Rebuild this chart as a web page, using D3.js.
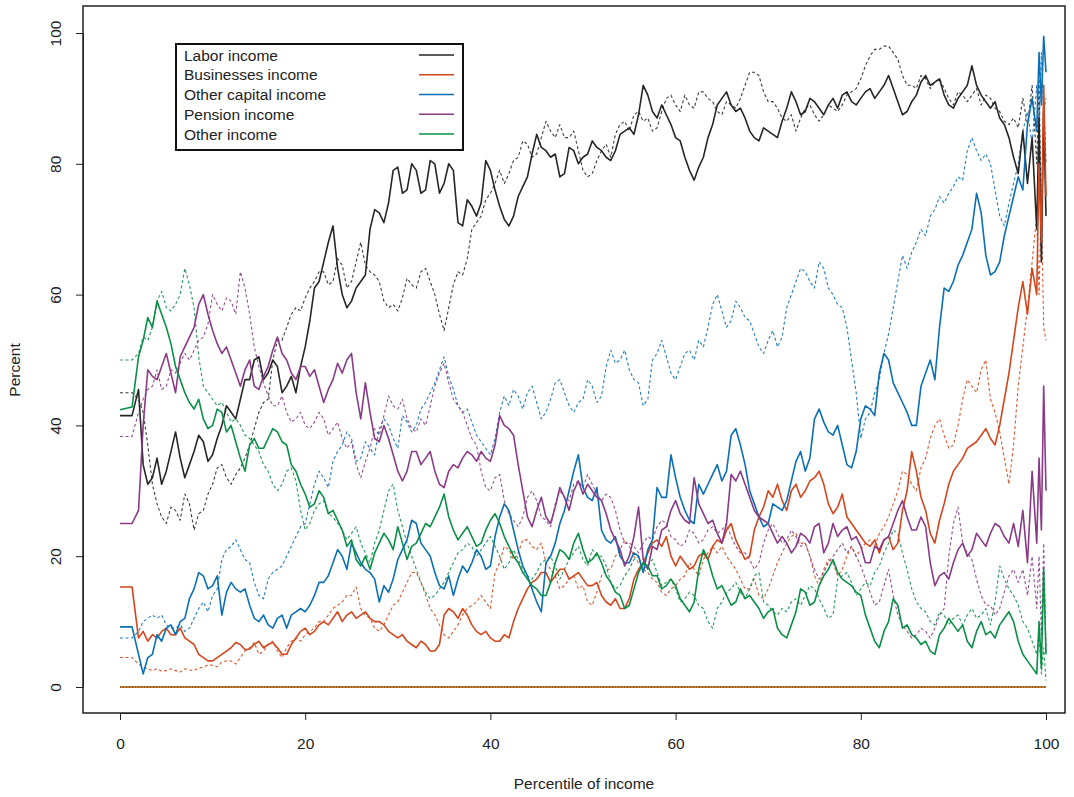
<!DOCTYPE html>
<html>
<head>
<meta charset="utf-8">
<script src="https://cdn.jsdelivr.net/npm/d3@7"></script>
<style>
  html, body { margin: 0; padding: 0; background: #ffffff; }
  svg { display: block; font-family: "Liberation Sans", Arial, Helvetica, sans-serif; }
</style>
</head>
<body>
<svg id="chart" width="1074" height="797"></svg>
<script>
// Income-source shares along the income distribution.
// Solid lines: first group, dotted lines: second group.
// Each series is sampled on a main grid plus a set of in-between points.

const percentiles = [0, 1.3, 2, 2.5, 3, 3.5,
  4, 5, 6, 7, 8, 9, 10, 11, 12, 13,
  14, 15, 16, 17, 18, 19, 20, 21, 22, 23,
  24, 25, 26, 27, 28, 29, 30, 31, 32, 33,
  34, 35, 36, 37, 38, 39, 40, 41, 42, 43,
  44, 45, 46, 47, 48, 49, 50, 51, 52, 53,
  54, 55, 56, 57, 58, 59, 60, 61, 62, 63,
  64, 65, 66, 67, 68, 69, 70, 71, 72, 73,
  74, 75, 76, 77, 78, 79, 80, 81, 82, 83,
  84, 85, 86, 87, 88, 89, 90, 91, 92, 93,
  94, 95, 96, 97,
  97.5, 98, 98.5, 99, 99.25, 99.5, 99.75, 100];

const halfPercentiles = [
  4.5, 5.5, 6.5, 7.5, 8.5, 9.5, 10.5, 11.5, 12.5, 13.5,
  14.5, 15.5, 16.5, 17.5, 18.5, 19.5, 20.5, 21.5, 22.5, 23.5,
  24.5, 25.5, 26.5, 27.5, 28.5, 29.5, 30.5, 31.5, 32.5, 33.5,
  34.5, 35.5, 36.5, 37.5, 38.5, 39.5, 40.5, 41.5, 42.5, 43.5,
  44.5, 45.5, 46.5, 47.5, 48.5, 49.5, 50.5, 51.5, 52.5, 53.5,
  54.5, 55.5, 56.5, 57.5, 58.5, 59.5, 60.5, 61.5, 62.5, 63.5,
  64.5, 65.5, 66.5, 67.5, 68.5, 69.5, 70.5, 71.5, 72.5, 73.5,
  74.5, 75.5, 76.5, 77.5, 78.5, 79.5, 80.5, 81.5, 82.5, 83.5,
  84.5, 85.5, 86.5, 87.5, 88.5, 89.5, 90.5, 91.5, 92.5, 93.5,
  94.5, 95.5, 96.5];

// ---- Labor income ----
const laborSolid = [41.5, 41.5, 45.5, 34, 31, 32,
  35, 33, 39, 32, 36, 37.5, 35.5, 40, 42, 44,
  47, 50.5, 48, 49, 46, 45, 52, 61, 65, 70.5,
  60, 59, 62, 70, 72.5, 74, 79.5, 76, 79, 76,
  80, 77, 79, 70.5, 73.5, 74, 79, 73.5, 70.5, 75,
  78, 84.5, 82, 81.5, 78.5, 82, 81, 83.5, 82, 80.5,
  84.5, 85.5, 87.5, 90.5, 87, 87.5, 84, 81, 77.5, 81,
  86, 90, 89, 88.5, 85, 83.5, 85, 84, 88.5, 89.5,
  88, 89.5, 87.5, 90, 90.5, 89.5, 90, 91.5, 91, 93.5,
  89.5, 88, 90.5, 93.5, 92.5, 90.5, 88.5, 91, 95, 90.5,
  88.5, 87, 84, 78.5,
  85, 77, 84, 70, 87, 65, 88, 72];
const laborSolidHalf = [
  31, 36, 35, 34, 38.5, 34.5, 38, 43, 41, 47,
  50, 47, 50, 45, 47.5, 49, 56, 62, 68, 64,
  58, 61, 63, 73, 71, 79, 75.5, 80, 75.5, 80.5,
  75.5, 80, 71, 74.5, 72, 80.5, 76, 71.5, 72, 76.5,
  81.5, 82.5, 81, 78, 82.5, 80, 81.5, 82.5, 81, 82,
  85, 84.5, 92, 88, 89, 86, 83.5, 79, 79.5, 84,
  89, 91, 88, 87, 84, 85.5, 84.5, 86.5, 91, 87.5,
  90, 88.5, 89, 88.5, 91, 89, 91, 90, 92, 91.5,
  87.5, 89.5, 92.5, 92, 93, 89, 90, 92, 92, 89.5,
  89.5, 86, 81];

const laborDotted = [45, 45, 44, 42, 37, 31,
  28, 25, 27, 29.5, 24, 27, 31, 34, 31, 33.5,
  37, 42, 44, 53, 55, 58, 59.5, 62, 63.5, 62,
  64.5, 62, 68, 63.5, 62, 58, 57.5, 62.5, 61, 64,
  60, 54.5, 61.5, 63, 70, 72, 75.5, 79, 78.5, 81,
  83, 81.5, 86.5, 84, 84, 85, 79, 78.5, 82, 81,
  86, 85, 88, 87, 85.5, 90, 89, 90.5, 88.5, 91,
  89.5, 87.5, 89, 90, 94, 93.5, 89.5, 88.5, 86.5, 85,
  88.5, 87.5, 87.5, 88.5, 89, 91, 93, 96.5, 97.5, 98,
  96, 92, 91.5, 93, 92.5, 91.5, 89, 90.5, 90.5, 89,
  90, 88, 86, 85.5,
  90, 86, 92, 80, 93, 70, 90, 80];
const laborDottedHalf = [
  26, 27.5, 25.5, 28, 26.5, 29.5, 33.5, 32, 32.5, 35,
  39.5, 43.5, 50, 53, 57, 57.5, 61, 63.5, 61.5, 65.5,
  61, 65, 64.5, 63, 59, 58.5, 59.5, 61.5, 63.5, 62,
  57, 58, 63.5, 65.5, 71, 74.5, 77, 77, 80.5, 83.5,
  81, 84, 85, 86, 84, 82, 78, 80.5, 83, 84.5,
  86.5, 87.5, 86.5, 85, 88, 90.5, 88, 89, 91, 90,
  88, 89.5, 88.5, 92, 94, 91, 89.5, 87, 87.5, 87,
  89, 86.5, 89, 88, 90.5, 91.5, 95, 97.5, 98, 97,
  93.5, 92, 93.5, 91.5, 93, 90, 91, 89.5, 91.5, 90.5,
  88.5, 86.5, 87];

// ---- Businesses income ----
const businessSolid = [15.3, 15.3, 7.5, 8.5, 7, 8,
  7.5, 9, 8, 7.5, 6.5, 4.5, 4, 5, 6, 6.5,
  5.8, 7, 6.5, 6, 5, 7.5, 9, 8.5, 10, 10.5,
  10, 11.5, 11, 10.5, 10, 8.5, 7.5, 7, 6, 6.5,
  5.5, 11, 11.5, 12, 9.5, 8, 7.5, 7, 7.5, 12,
  15, 16.5, 17.5, 17, 18, 17, 16.5, 15.5, 14, 12.5,
  12, 13.5, 18, 20.5, 22.5, 23, 18.5, 19, 18.5, 20.5,
  21.5, 22, 25, 21, 20, 26, 30, 31, 27, 31,
  30, 32, 31, 26.5, 29.5, 25, 23, 21.5, 20.5, 23,
  22, 30, 33, 27, 22, 28, 33, 35, 37, 38.5,
  38, 40, 48, 58,
  62, 57, 64, 60, 80, 68, 92, 75];
const businessSolidHalf = [
  8.5, 8, 9, 7, 5, 4, 4.5, 5.5, 6.8, 5.7,
  6.5, 6, 6.8, 5, 6.5, 8.5, 8, 9.5, 9.5, 11.5,
  11, 10.5, 11.5, 10, 9.5, 8, 8, 6.5, 7, 5.5,
  6.5, 12, 10.5, 11, 8.5, 8.5, 7, 8, 10, 13.5,
  16, 17.5, 16, 18, 16.5, 17.5, 15.5, 16, 13, 13.5,
  12, 16.5, 19, 22, 21.5, 20, 20, 18, 20, 19.5,
  22.5, 24, 22.5, 19.5, 24, 27.5, 29, 28.5, 30, 29,
  31.5, 33, 28, 27.5, 26, 24, 22, 22.5, 22.5, 21,
  27, 36, 29, 23.5, 25.5, 31, 34, 36.5, 37.5, 39.5,
  37, 44, 53];

const businessDotted = [4.5, 4.5, 3.5, 3, 2.8, 2.5,
  2.8, 2.5, 2.5, 2.8, 2.5, 3, 3.3, 3.8, 4, 4.5,
  6, 5, 6.5, 5.5, 6, 7.5, 8, 9, 10, 12,
  13, 14, 12, 10.5, 8.5, 11, 13, 16, 17.5, 14,
  11, 8, 8.5, 11, 12.5, 14, 12, 19, 21, 20.5,
  22.5, 21, 19, 17, 15.5, 17, 15.5, 12.5, 17, 18,
  21, 21.5, 19, 17.5, 16, 14, 15.5, 17, 18, 19.5,
  21.5, 21.5, 19, 16.5, 15, 14, 15, 19, 22, 23.5,
  22, 17, 18, 19, 18, 21.5, 21, 22.5, 23.5, 26,
  30, 32.5, 30, 35, 40, 38.5, 37, 44, 46, 48.5,
  44, 39, 31, 46,
  52, 58, 65, 72, 60, 75, 55, 53];
const businessDottedHalf = [
  2.4, 2.8, 2.3, 2.6, 2.9, 3.4, 3.1, 4, 3.5, 5.5,
  6.8, 5.5, 7, 4.5, 7, 7, 8.5, 10, 11, 12.5,
  14, 15.3, 11, 9, 9.5, 12.5, 14.5, 17.5, 16, 12,
  9.5, 7.5, 9.5, 12, 13, 13, 17.5, 21.5, 19.5, 22.5,
  21.5, 22, 18, 15, 16.5, 15, 13, 14.5, 18, 20,
  22.5, 20, 18, 16.5, 14.5, 15, 16.5, 19, 17, 20.5,
  20.5, 20, 18, 15, 16.5, 13.5, 17, 20.5, 23, 22,
  20, 15.5, 19.5, 17, 20, 20, 22, 21.5, 24.5, 28,
  33, 31, 33.5, 38, 41, 36.5, 40, 47, 45, 50,
  42, 35, 37];

// ---- Other capital income ----
const capitalSolid = [9.2, 9.2, 5, 2, 4.5, 5,
  8, 9, 8, 10.5, 15, 17, 15.5, 11, 16, 14.5,
  12.5, 10, 9.5, 10.5, 9, 11.5, 11.5, 14, 16, 19,
  20, 22, 19, 17.5, 13, 14.5, 19.5, 22.5, 25, 21,
  17.5, 15, 14, 18.5, 19, 20, 18.5, 26, 27, 21,
  17, 13, 19, 22, 27, 33, 30.5, 28.5, 24, 22,
  20, 19, 20, 21, 30.5, 29, 32, 27, 25, 29.5,
  32.5, 31.5, 38.5, 37, 30, 26, 25, 27.5, 28.5, 34.5,
  33, 41, 40.5, 38.5, 37, 33.5, 41, 42.5, 48, 50,
  45, 42, 40, 48, 47, 61, 62, 66, 70, 72.5,
  63, 65, 72, 78,
  76, 86, 90, 85, 97, 89, 99.5, 94];
const capitalSolidHalf = [
  7, 9.5, 10, 13.5, 17.5, 15, 17, 14.5, 15, 15,
  10.5, 11, 9, 11, 11, 12, 12.5, 16, 17, 21,
  18, 20.5, 18, 16.5, 15.5, 16.5, 21, 25.5, 22, 20,
  15.5, 17, 16.5, 17.5, 21, 18, 23, 28, 24, 18.5,
  15, 11.5, 20, 25, 30, 35.5, 29, 30.5, 22.5, 23,
  19, 20.5, 17.5, 22.5, 29, 35.5, 29, 25.5, 31, 31,
  34, 33, 39.5, 34, 28, 24.5, 28, 27, 31.5, 36,
  35, 42.5, 39, 40, 34, 36, 43, 41.5, 51, 46.5,
  43.5, 40, 46, 50, 55, 60.5, 64.5, 68, 75.5, 66,
  63.5, 69, 75];

const capitalDotted = [7.5, 7.5, 8.5, 10, 10.5, 11,
  10.5, 9.5, 9, 8.5, 10.5, 13, 14, 19.5, 21.5, 21,
  19, 14, 16.5, 18, 20, 23, 25, 31, 32, 34.5,
  37, 38, 35, 36.5, 39.5, 40, 36.5, 40.5, 40, 43.5,
  46.5, 50.5, 45.5, 42, 40.5, 37.5, 35.5, 42, 43, 44.5,
  45, 43.5, 42, 46.5, 45, 42, 44, 46, 44.5, 51.5,
  50, 48.5, 46.5, 44, 51, 50.5, 47, 51, 50, 52,
  58.5, 57.5, 56, 58, 56, 52, 53, 52, 58, 62,
  63.5, 61, 64, 60, 58, 50, 38, 42, 47, 54,
  62, 64, 68, 69, 73, 74, 76.5, 77.5, 84, 80.5,
  80, 72, 74, 80,
  85, 88, 83, 92, 85, 97, 88, 90];
const capitalDottedHalf = [
  11, 9, 9.5, 9, 12, 11.5, 15, 21, 22.5, 19.5,
  16, 13.5, 17.5, 18.5, 21.5, 24.5, 28, 33, 30.5, 36,
  39, 34.5, 37.5, 35.5, 41, 38, 41.5, 39, 42.5, 45,
  48.5, 47.5, 43, 42.5, 38.5, 36.5, 38, 44.5, 45.5, 42.5,
  46, 41, 44, 47, 43, 43.5, 47, 43.5, 49, 49.5,
  51.5, 47, 43, 50, 53, 48, 49, 51.5, 53, 55,
  60, 55, 59, 56.5, 54, 51, 54.5, 53.5, 60, 64,
  62, 65, 61, 58.5, 55, 45, 41, 45, 51, 58,
  66, 66.5, 70, 72, 75, 75.5, 78, 82, 82, 81.5,
  76, 70.5, 77];

// ---- Pension income ----
const pensionSolid = [25, 25, 27, 40, 48.5, 47.5,
  47, 51, 45, 52, 55, 60, 54.5, 51, 50, 46,
  50, 45.5, 49, 53.5, 50, 47, 49, 48.5, 43.5, 47,
  48, 51, 41, 42, 37.5, 38, 33, 33, 36, 35,
  33, 30.5, 34, 35, 35.5, 36, 34.5, 41.5, 39.5, 34,
  26, 27, 26, 27.5, 29, 30, 29.5, 30, 28.5, 24,
  21, 20, 27.5, 18, 21, 24.5, 28.5, 25.5, 32, 26.5,
  25.5, 22, 32.5, 33, 29, 26, 25, 22, 22, 21.5,
  23, 24.5, 20.5, 25, 24, 22.5, 21.5, 19, 21, 23,
  27, 26, 24, 24.5, 15.5, 17.5, 19, 22, 21, 22.5,
  23.5, 24.5, 22, 21.5,
  27, 19, 33, 22, 35, 24, 46, 30];
const pensionSolidHalf = [
  49, 48, 50.5, 53.5, 58.5, 57, 52.5, 52, 48, 48.5,
  46, 47.5, 51.5, 51, 48, 49, 47.5, 46, 45.5, 49.5,
  50, 45, 46.5, 38, 40, 35.5, 31.5, 36, 34, 36,
  31, 33, 33.5, 36, 34.5, 35, 37, 40, 38.5, 30,
  24.5, 29, 25, 30.5, 27, 31.5, 31, 29, 26.5, 22.5,
  18.5, 23, 19.5, 21.5, 24, 27, 26.5, 25, 28, 25,
  23.5, 25, 31.5, 31, 27, 25.5, 23.5, 23, 20.5, 23.5,
  22, 25, 22, 23, 24.5, 23, 19, 21.5, 22.5, 25,
  28.5, 24, 26, 19, 17, 16.5, 21, 20, 23.5, 21.5,
  25, 23, 25];

const pensionDotted = [38.3, 38.3, 42, 44, 45.5, 46,
  48.5, 46, 48, 51, 51.5, 53.5, 60, 57.5, 59, 63.5,
  57, 49, 44.5, 43, 42, 41, 40, 40.5, 41, 39.5,
  38, 37.5, 32, 36.5, 38.5, 44.5, 42.5, 41, 39, 40,
  46, 49.5, 44, 42, 38, 33, 30, 32.5, 26.5, 24.5,
  29, 28.5, 25.5, 28, 29, 31, 30.5, 31, 28.5, 29,
  24, 22, 20.5, 23, 24.5, 25, 22.5, 22, 23.5, 22.5,
  24.5, 24, 23, 20.5, 19.5, 19, 24, 23.5, 22.5, 23,
  22, 18, 17.5, 20, 22, 21.5, 18.5, 14.5, 13, 18,
  11, 8.5, 8, 8.5, 9, 12, 25, 22, 19.5, 14,
  12.5, 12, 17, 16,
  18, 14, 20, 12, 20, 8, 22, 5];
const pensionDottedHalf = [
  45.5, 48.5, 49.5, 50, 53, 55.5, 58.5, 59.5, 57, 61,
  52, 46.5, 43, 44.5, 40.5, 42, 39.5, 42, 38.5, 40.5,
  36.5, 34, 34.5, 39.5, 41.5, 43, 44, 39.5, 41, 43,
  48, 46.5, 43, 40, 37, 30.5, 32, 28.5, 25.5, 26,
  30, 26, 24.5, 30, 28.5, 31.5, 32.5, 29.5, 29.5, 27,
  22, 21.5, 22, 22.5, 25.5, 23, 21.5, 24, 22, 24,
  23.5, 25, 21.5, 20.5, 18, 22, 25, 22, 24, 21.5,
  20, 16.5, 19, 21, 20.5, 20, 16.5, 12.5, 15.5, 14,
  9.5, 7.5, 9, 7.5, 11, 20, 27.5, 20.5, 16.5, 12.5,
  11, 14.5, 18];

// ---- Other income ----
const otherSolid = [42.4, 42.8, 50.5, 53, 56.5, 55,
  59, 55, 49, 45, 42.5, 41, 40, 42, 40, 35,
  37, 36.5, 38, 39, 37, 33, 29.5, 28, 29, 27,
  24, 22.5, 18.5, 18, 22, 22.5, 24.5, 19.5, 22, 25,
  26, 29.5, 24, 23.5, 23, 22, 25.5, 25, 21.5, 19,
  16.5, 15, 14, 19, 20.5, 22, 21, 19.5, 19, 16,
  14, 12.5, 17.5, 18.5, 17, 15.5, 15.5, 12.5, 13, 21,
  17, 15.5, 12.5, 15, 14, 12, 11.5, 9, 7.5, 11.5,
  14.5, 13, 17, 19.5, 16.5, 15.5, 14, 9, 6, 10,
  12.5, 9.5, 7.5, 7, 5, 9, 9.5, 9.5, 6, 10,
  8.5, 9.5, 11.5, 7,
  5, 4, 3, 2, 10, 3, 18, 5];
const otherSolidHalf = [
  57, 52.5, 47, 43.5, 44, 39.5, 42.5, 39, 37.5, 33,
  38, 36.5, 39.5, 37.5, 34, 31, 27.5, 30, 26.5, 25.5,
  21.5, 19.5, 20, 20.5, 23.5, 21, 22, 21.5, 23.5, 24.5,
  27.5, 26, 22.5, 24.5, 21.5, 24, 26.5, 23, 20, 17.5,
  15.5, 14, 16, 21, 19.5, 23.5, 19, 20.5, 17, 14.5,
  12, 15, 19, 17, 15, 16.5, 13.5, 11.5, 18, 19.5,
  15, 14, 13, 13.5, 13, 10.5, 12, 8, 9.5, 15,
  12.5, 15.5, 18, 17.5, 16, 14.5, 11, 7, 8.5, 13.5,
  9, 8, 6.5, 5.5, 8, 10.5, 8.5, 7, 8.5, 8,
  7.5, 10.5, 10];

const otherDotted = [50, 50, 51, 53.5, 53, 55,
  59, 58, 58.5, 64, 58, 46, 44, 43.5, 40.5, 40,
  38, 36, 33, 30, 33, 31.5, 24, 27, 28.5, 26,
  24, 23.5, 22, 19, 24, 30, 27, 22, 18, 14.5,
  14, 16, 19, 21, 21.5, 21, 23, 20, 19, 19.5,
  17, 17.5, 19.5, 18.5, 18, 20.5, 19.5, 21, 20, 16,
  15.5, 18, 20, 18.5, 17.5, 16, 15, 13.5, 14, 12,
  9, 13, 15, 14.5, 15, 17.5, 12.5, 11, 11.5, 13.5,
  14, 15, 12, 11, 17, 16, 15, 15.5, 18.5, 22,
  23.5, 18, 13, 11.5, 9.5, 11, 10.5, 9.5, 12, 11,
  9.5, 18.5, 15, 12.5,
  10, 9, 7, 5, 8, 2, 6, 1];
const otherDottedHalf = [
  60.5, 57.5, 60, 61.5, 50.5, 45, 43, 42, 41, 38.5,
  37, 34, 31, 31, 33.5, 27, 25, 28, 26.5, 25,
  22.5, 24.5, 20.5, 22, 27, 31, 24.5, 20, 16, 13.5,
  15, 17.5, 20.5, 22, 20, 22, 21.5, 18, 21, 18,
  16.5, 19, 20, 16.5, 19.5, 21.5, 18.5, 20, 18.5, 15,
  17, 19.5, 18, 19.5, 15.5, 16.5, 13, 14.5, 12.5, 10,
  12, 14.5, 16, 13.5, 17, 13, 11.5, 12, 13, 12.5,
  15.5, 13.5, 10.5, 16.5, 17.5, 14, 16, 17.5, 20.5, 24,
  20.5, 15, 12, 10, 11.5, 9.5, 11, 11, 10.5, 12,
  13, 16.5, 14];

// Flat reference series at zero across the whole range
const baselinePercentiles = [0, 100];
const baselineValues = [0, 0];

const legendLabels = ["Labor income", "Businesses income", "Other capital income", "Pension income", "Other income"];
const sourceColors = ["#262626", "#D4461C", "#0B6FB5", "#8A3A86", "#0A8F47"];
const xTicks = [0, 20, 40, 60, 80, 100];
const yTicks = [0, 20, 40, 60, 80, 100];

const solidSeries = [
  [laborSolid, laborSolidHalf], [businessSolid, businessSolidHalf],
  [capitalSolid, capitalSolidHalf], [pensionSolid, pensionSolidHalf],
  [otherSolid, otherSolidHalf]];
const dottedSeries = [
  [laborDotted, laborDottedHalf], [businessDotted, businessDottedHalf],
  [capitalDotted, capitalDottedHalf], [pensionDotted, pensionDottedHalf],
  [otherDotted, otherDottedHalf]];

const FONT = 15.5;
const svg = d3.select("#chart");

// Plot frame
const frame = { left: 83, top: 6, right: 1065, bottom: 713 };

const x = d3.scaleLinear().domain([0, 100]).range([120, 1046]);
const y = d3.scaleLinear().domain([0, 100]).range([687, 33]);

const line = d3.line()
  .x(d => x(d[0]))
  .y(d => y(d[1]));

// Merge main-grid and in-between samples into one ordered path
function toPoints([main, half]) {
  const pts = percentiles.map((p, i) => [p, main[i]])
    .concat(halfPercentiles.map((p, i) => [p, half[i]]));
  return pts.filter(d => d[1] != null).sort((a, b) => a[0] - b[0]);
}

const plot = svg.append("g");

// Zero series
const basePts = baselinePercentiles.map((p, i) => [p, baselineValues[i]]);
plot.append("path").attr("d", line(basePts))
  .attr("fill", "none").attr("stroke", "#C27A2C").attr("stroke-width", 2);
plot.append("path").attr("d", line(basePts))
  .attr("fill", "none").attr("stroke", "#5a3a1a").attr("stroke-width", 1)
  .attr("stroke-dasharray", "1,2");

// Dotted group
dottedSeries.forEach((s, k) => {
  plot.append("path")
    .attr("d", line(toPoints(s)))
    .attr("fill", "none")
    .attr("stroke", sourceColors[k])
    .attr("stroke-width", 1.1)
    .attr("stroke-opacity", 0.9)
    .attr("stroke-dasharray", "3,2.5")
    .attr("stroke-linejoin", "round");
});

// Solid group
solidSeries.forEach((s, k) => {
  plot.append("path")
    .attr("d", line(toPoints(s)))
    .attr("fill", "none")
    .attr("stroke", sourceColors[k])
    .attr("stroke-width", 1.6)
    .attr("stroke-linejoin", "round");
});

// Box around the plotting region
svg.append("rect")
  .attr("x", frame.left).attr("y", frame.top)
  .attr("width", frame.right - frame.left)
  .attr("height", frame.bottom - frame.top)
  .attr("fill", "none").attr("stroke", "#222").attr("stroke-width", 1.5);

// X axis
const xAxis = svg.append("g")
  .attr("transform", `translate(0,${frame.bottom})`)
  .call(d3.axisBottom(x).tickValues(xTicks).tickSize(7).tickSizeOuter(0).tickPadding(18)
    .tickFormat(d3.format("d")));
xAxis.select(".domain").attr("stroke", "#222");
xAxis.selectAll(".tick line").attr("stroke", "#222");
xAxis.selectAll("text").attr("font-size", FONT).attr("fill", "#222")
  .attr("font-family", "'Liberation Sans', Arial, sans-serif");

// Y axis (labels parallel to the axis)
const yAxis = svg.append("g")
  .attr("transform", `translate(${frame.left},0)`)
  .call(d3.axisLeft(y).tickValues(yTicks).tickSize(7).tickSizeOuter(0)
    .tickFormat(d3.format("d")));
yAxis.select(".domain").attr("stroke", "#222");
yAxis.selectAll(".tick line").attr("stroke", "#222");
yAxis.selectAll("text")
  .attr("x", 0).attr("dy", 0)
  .attr("transform", "translate(-22,0) rotate(-90)")
  .attr("text-anchor", "middle")
  .attr("font-size", FONT).attr("fill", "#222")
  .attr("font-family", "'Liberation Sans', Arial, sans-serif");

// Axis titles
svg.append("text")
  .attr("x", 584).attr("y", 789)
  .attr("text-anchor", "middle")
  .attr("font-size", FONT).attr("fill", "#222")
  .text("Percentile of income");

svg.append("text")
  .attr("transform", "translate(20,370) rotate(-90)")
  .attr("text-anchor", "middle")
  .attr("font-size", FONT).attr("fill", "#222")
  .text("Percent");

// Legend
const legend = svg.append("g");
legend.append("rect")
  .attr("x", 176).attr("y", 44).attr("width", 287).attr("height", 106)
  .attr("fill", "#fff").attr("stroke", "#111").attr("stroke-width", 2);

const rowY = d3.scalePoint().domain(legendLabels).range([55, 134]);
legendLabels.forEach((lab, i) => {
  legend.append("text")
    .attr("x", 184).attr("y", rowY(lab) + 5.5)
    .attr("font-size", FONT).attr("fill", "#222")
    .text(lab);
  legend.append("line")
    .attr("x1", 419).attr("x2", 454)
    .attr("y1", rowY(lab)).attr("y2", rowY(lab))
    .attr("stroke", sourceColors[i]).attr("stroke-width", 1.3);
});
</script>
</body>
</html>
